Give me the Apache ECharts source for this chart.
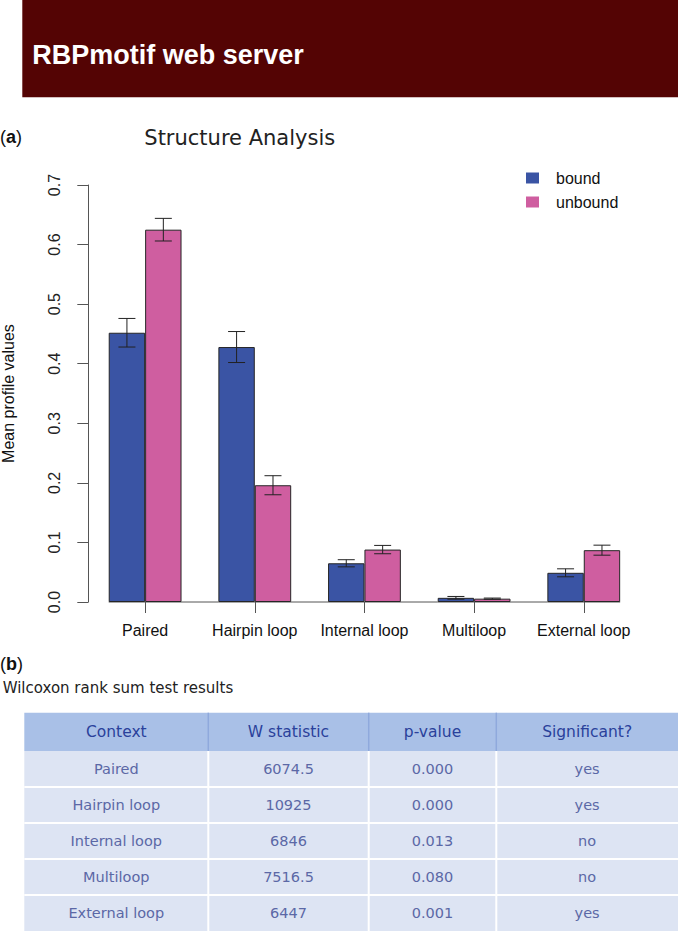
<!DOCTYPE html>
<html><head><meta charset="utf-8">
<script src="https://cdn.jsdelivr.net/npm/echarts@6/dist/echarts.min.js"></script>
<style>html,body{margin:0;padding:0;background:#fff;}#chart{width:678px;height:931px;}</style>
</head><body><div id="chart"></div>
<script>
// ---- data ----
const categories = ['Paired', 'Hairpin loop', 'Internal loop', 'Multiloop', 'External loop'];
const boundMean = [0.452, 0.428, 0.065, 0.007, 0.049];
const boundErr = [0.024, 0.026, 0.006, 0.0023, 0.0067];
const unboundMean = [0.625, 0.196, 0.088, 0.0056, 0.087];
const unboundErr = [0.019, 0.016, 0.007, 0.001, 0.0084];
const yMin = 0, yMax = 0.7, yStep = 0.1;

const tableHeader = ['Context', 'W statistic', 'p-value', 'Significant?'];
const tableContext = ['Paired', 'Hairpin loop', 'Internal loop', 'Multiloop', 'External loop'];
const tableW = ['6074.5', '10925', '6846', '7516.5', '6447'];
const tableP = ['0.000', '0.000', '0.013', '0.080', '0.001'];
const tableSig = ['yes', 'yes', 'no', 'no', 'yes'];

// ---- style constants ----
const BAR_W = 36.4, HALF = BAR_W / 2, CAP = 8.5;
const C_BOUND = '#3a54a4', C_UNBOUND = '#cf5ea0';
const SANS = '"Liberation Sans", Arial, sans-serif';
const DJ = '"DejaVu Sans", sans-serif';

const errData = [];
boundMean.forEach((m, i) => errData.push([i, m, m - boundErr[i], m + boundErr[i], 0]));
unboundMean.forEach((m, i) => errData.push([i, m, m - unboundErr[i], m + unboundErr[i], 1]));

// ---- table graphics ----
const colEdges = [24.3, 208.3, 368.7, 496.3, 678];
const headTop = 712.7, headH = 38.3, rowH = 36;
const tableRows = tableContext.map((c, i) => [c, tableW[i], tableP[i], tableSig[i]]);
const tbl = [];
const tW = colEdges[4] - colEdges[0];
const dataTop = headTop + headH;
tbl.push({type: 'rect', shape: {x: colEdges[0], y: headTop, width: tW, height: headH}, style: {fill: '#a9c0e7'}});
tbl.push({type: 'rect', shape: {x: colEdges[0], y: dataTop, width: tW, height: rowH * tableRows.length}, style: {fill: '#dde4f3'}});
for (let r = 1; r < tableRows.length; r++) {
  const y = dataTop + r * rowH;
  tbl.push({type: 'line', shape: {x1: colEdges[0], y1: y, x2: colEdges[4], y2: y}, style: {stroke: '#ffffff', lineWidth: 2}});
}
for (let c = 1; c < 4; c++) {
  const x = colEdges[c];
  tbl.push({type: 'line', shape: {x1: x, y1: headTop, x2: x, y2: dataTop}, style: {stroke: '#8fa9dc', lineWidth: 1.5}});
  tbl.push({type: 'line', shape: {x1: x, y1: dataTop, x2: x, y2: dataTop + rowH * tableRows.length}, style: {stroke: '#ffffff', lineWidth: 2}});
}
tableHeader.forEach((h, c) => {
  tbl.push({type: 'text', style: {text: h, x: (colEdges[c] + colEdges[c + 1]) / 2, y: headTop + headH / 2,
    align: 'center', verticalAlign: 'middle', fill: '#2a419b', font: '15.5px ' + DJ}});
});
tableRows.forEach((row, r) => {
  row.forEach((v, c) => {
    tbl.push({type: 'text', style: {text: v, x: (colEdges[c] + colEdges[c + 1]) / 2, y: dataTop + r * rowH + rowH / 2,
      align: 'center', verticalAlign: 'middle', fill: '#5b68a6', font: '14.5px ' + DJ}});
  });
});

const chart = echarts.init(document.getElementById('chart'), null, {renderer: 'svg'});
chart.setOption({
  animation: false,
  backgroundColor: '#ffffff',
  grid: {left: 90.3, right: 39.4, top: 185, bottom: 329, containLabel: false, outerBoundsMode: 'none'},
  legend: {
    data: ['bound', 'unbound'], orient: 'vertical', left: 526, top: 170, padding: 0,
    itemWidth: 13, itemHeight: 11, itemGap: 8, icon: 'rect', selectedMode: false,
    itemStyle: {borderWidth: 0},
    textStyle: {fontSize: 16, fontFamily: SANS, color: '#111', padding: [0, 0, 0, 12]}
  },
  xAxis: {
    type: 'category', data: categories,
    axisLine: {show: false},
    axisTick: {show: true, alignWithLabel: true, length: 11, lineStyle: {color: '#555', width: 1}},
    axisLabel: {fontSize: 16, fontFamily: SANS, color: '#111', margin: 20, interval: 0},
    splitLine: {show: false}
  },
  yAxis: {
    type: 'value', min: yMin, max: yMax, interval: yStep, offset: 2,
    name: 'Mean profile values', nameLocation: 'middle', nameGap: 72,
    nameTextStyle: {fontSize: 16, fontFamily: SANS, color: '#111'},
    axisLine: {show: true, lineStyle: {color: '#555', width: 1}},
    axisTick: {show: true, length: 11, lineStyle: {color: '#555', width: 1}},
    axisLabel: {rotate: 90, margin: 26, fontSize: 16, fontFamily: SANS, color: '#222',
      formatter: v => v.toFixed(1)},
    splitLine: {show: false}
  },
  series: [
    {name: 'bound', type: 'bar', data: boundMean, barWidth: BAR_W, barGap: '0%',
      itemStyle: {color: C_BOUND, borderColor: '#262626', borderWidth: 1}},
    {name: 'unbound', type: 'bar', data: unboundMean, barWidth: BAR_W, barGap: '0%',
      itemStyle: {color: C_UNBOUND, borderColor: '#262626', borderWidth: 1}},
    {name: 'baseline', type: 'custom', data: categories.map((c, i) => [i, 0]), z: 1, silent: true,
      encode: {x: 0, y: 1},
      renderItem: function (params, api) {
        const i = api.value(0);
        const p = api.coord([i, 0]);
        let x1;
        if (i < categories.length - 1) x1 = api.coord([i + 1, 0])[0] - BAR_W;
        else x1 = p[0] + BAR_W;
        return {type: 'line', shape: {x1: p[0] - BAR_W, y1: p[1], x2: x1, y2: p[1]},
          style: {stroke: '#555', lineWidth: 1}};
      }},
    {name: 'errors', type: 'custom', data: errData, z: 5, silent: true,
      encode: {x: 0, y: [2, 3]},
      renderItem: function (params, api) {
        const i = api.value(0), lo = api.value(2), hi = api.value(3), s = api.value(4);
        const ph = api.coord([i, hi]), pl = api.coord([i, lo]);
        const x = ph[0] + (s === 0 ? -HALF : HALF);
        const st = {stroke: '#222', lineWidth: 1};
        return {type: 'group', children: [
          {type: 'line', shape: {x1: x, y1: ph[1], x2: x, y2: pl[1]}, style: st},
          {type: 'line', shape: {x1: x - CAP, y1: ph[1], x2: x + CAP, y2: ph[1]}, style: st},
          {type: 'line', shape: {x1: x - CAP, y1: pl[1], x2: x + CAP, y2: pl[1]}, style: st}
        ]};
      }}
  ],
  graphic: [
    {type: 'rect', shape: {x: 22.3, y: 0, width: 678 - 22.3, height: 97.3}, style: {fill: '#540404'}},
    {type: 'text', style: {text: 'RBPmotif web server', x: 32.3, y: 55, verticalAlign: 'middle',
      fill: '#ffffff', font: 'bold 27px ' + SANS}},
    {type: 'text', style: {text: '({b|a})', x: 0, y: 137, verticalAlign: 'middle', fill: '#111',
      font: '18px ' + SANS, rich: {b: {fontWeight: 'bold', fontSize: 18, fontFamily: SANS, fill: '#111'}}}},
    {type: 'text', style: {text: 'Structure Analysis', x: 144.3, y: 138, verticalAlign: 'middle',
      fill: '#222', font: '21px ' + DJ}},
    {type: 'text', style: {text: '({b|b})', x: 0, y: 664, verticalAlign: 'middle', fill: '#111',
      font: '18px ' + SANS, rich: {b: {fontWeight: 'bold', fontSize: 18, fontFamily: SANS, fill: '#111'}}}},
    {type: 'text', style: {text: 'Wilcoxon rank sum test results', x: 2.7, y: 688, verticalAlign: 'middle',
      fill: '#222', font: '15px ' + DJ}}
  ].concat(tbl)
});
</script></body></html>
